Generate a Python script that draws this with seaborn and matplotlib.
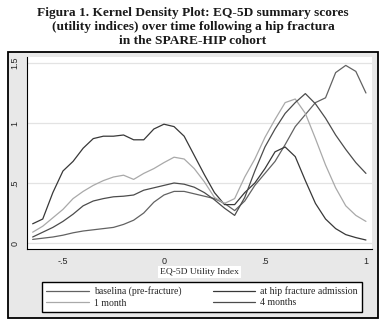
import seaborn as sns
import matplotlib.pyplot as plt
import pandas as pd
from matplotlib.patches import Rectangle

# EQ-5D utility index grid and density values
utility = [-0.65, -0.60, -0.55, -0.50, -0.45, -0.40, -0.35, -0.30, -0.25, -0.20,
           -0.15, -0.10, -0.05, 0.00, 0.05, 0.10, 0.15, 0.20, 0.25, 0.30,
           0.35, 0.40, 0.45, 0.50, 0.55, 0.60, 0.65, 0.70, 0.75, 0.80,
           0.85, 0.90, 0.95, 1.00]

baseline = [0.03, 0.04, 0.05, 0.065, 0.085, 0.10, 0.11, 0.12, 0.13, 0.155,
            0.19, 0.25, 0.34, 0.40, 0.43, 0.43, 0.41, 0.39, 0.37, 0.33,
            0.27, 0.35, 0.48, 0.58, 0.68, 0.82, 0.97, 1.07, 1.17, 1.21,
            1.42, 1.48, 1.43, 1.25]

admission = [0.16, 0.20, 0.42, 0.60, 0.68, 0.79, 0.87, 0.89, 0.89, 0.90,
             0.86, 0.86, 0.95, 0.99, 0.97, 0.89, 0.73, 0.57, 0.42, 0.32,
             0.32, 0.42, 0.50, 0.62, 0.76, 0.80, 0.72, 0.52, 0.33, 0.20,
             0.12, 0.07, 0.045, 0.025]

month1 = [0.09, 0.14, 0.21, 0.28, 0.37, 0.43, 0.48, 0.52, 0.55, 0.565,
          0.53, 0.58, 0.62, 0.67, 0.715, 0.70, 0.62, 0.51, 0.38, 0.33,
          0.37, 0.55, 0.70, 0.88, 1.03, 1.17, 1.20, 1.08, 0.87, 0.65,
          0.46, 0.31, 0.23, 0.18]

month4 = [0.05, 0.09, 0.13, 0.18, 0.24, 0.31, 0.35, 0.37, 0.385, 0.39,
          0.40, 0.44, 0.46, 0.48, 0.50, 0.49, 0.465, 0.42, 0.36, 0.29,
          0.23, 0.38, 0.60, 0.80, 0.95, 1.08, 1.17, 1.245, 1.16, 1.04,
          0.90, 0.78, 0.67, 0.58]

labels = ["baselina (pre-fracture)", "at hip fracture admission", "1 month", "4 months"]
colors = ["#626262", "#383838", "#a9a9a9", "#4c4c4c"]

df = pd.DataFrame({
    "utility": utility * 4,
    "density": baseline + admission + month1 + month4,
    "wave": [lab for lab in labels for _ in utility],
})

sns.set_style("white")
plt.rcParams['font.family'] = ['Liberation Serif', 'DejaVu Serif']

fig = plt.figure(figsize=(3.86, 3.26), dpi=100)
fig.patch.set_facecolor("white")

# grey graph region with black frame (Stata style)
fig.add_artist(Rectangle((8 / 386, 1 - 318 / 326), 370 / 386, 266 / 326,
                         transform=fig.transFigure, facecolor="#e8e8e8",
                         edgecolor="black", lw=1.3, zorder=-1))

ax = fig.add_axes([27 / 386, 1 - 249 / 326, 345 / 386, 192 / 326])
ax.set_facecolor("white")

sns.lineplot(data=df, x="utility", y="density", hue="wave", hue_order=labels,
             palette=dict(zip(labels, colors)), linewidth=0.9, ax=ax, legend=False)

ax.set_xlim(-0.678, 1.030)
ax.set_ylim(-0.05, 1.55)
ax.set_xticks([-0.5, 0, 0.5, 1])
ax.set_xticklabels(["-.5", "0", ".5", "1"], fontsize=6.5, family="Liberation Sans")
ax.set_yticks([0, 0.5, 1, 1.5])
ax.set_yticklabels(["0", ".5", "1", "1.5"], fontsize=6.5, family="Liberation Sans",
                   rotation=90, va="center")
ax.tick_params(axis="both", direction="out", length=3.5, width=0.8, color="black", pad=2)
ax.yaxis.grid(True, color="#e3e3e3", lw=0.9)
ax.xaxis.grid(False)
for side in ["top", "right"]:
    ax.spines[side].set_visible(False)
for side in ["left", "bottom"]:
    ax.spines[side].set_color("black")
    ax.spines[side].set_linewidth(0.8)
ax.set_ylabel("")
ax.set_xlabel("EQ-5D Utility Index", fontsize=6.8, labelpad=2,
              bbox=dict(facecolor="white", edgecolor="none", pad=1.5))

# legend below the plot, two columns
handles = ax.lines[:4]
order = [0, 2, 1, 3]
fig.legend([handles[i] for i in order], [labels[i] for i in order],
           loc="center", bbox_to_anchor=(202 / 386, 1 - 297 / 326), ncol=2,
           fontsize=7, frameon=True, fancybox=False, edgecolor="black",
           framealpha=1, handlelength=4.4, columnspacing=3.2, handletextpad=0.5,
           labelspacing=0.25, borderpad=0.45)

fig.suptitle("Figura 1. Kernel Density Plot: EQ-5D summary scores\n"
             "(utility indices) over time following a hip fractura\n"
             "in the SPARE-HIP cohort",
             y=0.977, fontsize=9.6, fontweight="bold", color="#1a1a1a", linespacing=1.2)

fig.savefig("out.png", dpi=100)
